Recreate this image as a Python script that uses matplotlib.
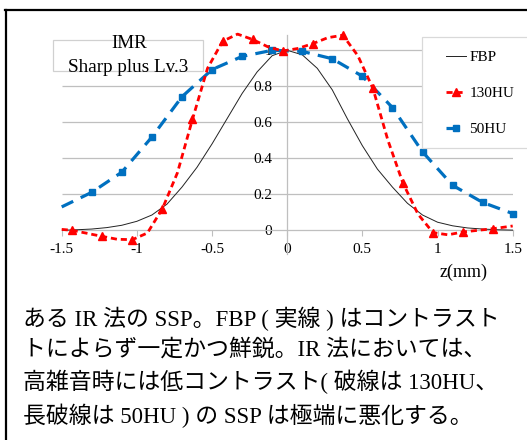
import matplotlib
matplotlib.use("Agg")
import matplotlib.pyplot as plt
from matplotlib.patches import Rectangle
from matplotlib.lines import Line2D

serif = "Liberation Serif"
jp = ["Liberation Serif", "Noto Sans CJK JP", "DejaVu Sans"]

# FBP (solid, thin)
fbp_x = [-1.5, -1.4, -1.3, -1.2, -1.1, -1.0, -0.9, -0.8, -0.7, -0.6, -0.5, -0.4, -0.3, -0.2, -0.1, 0.0,
         0.1, 0.2, 0.3, 0.4, 0.5, 0.6, 0.7, 0.8, 0.9, 1.0, 1.1, 1.2, 1.3, 1.4, 1.5]
fbp_y = [0.0, 0.003, 0.007, 0.015, 0.028, 0.05, 0.085, 0.145, 0.24, 0.35, 0.48, 0.62, 0.76, 0.88, 0.97, 1.0,
         0.975, 0.9, 0.78, 0.62, 0.47, 0.34, 0.24, 0.15, 0.085, 0.045, 0.025, 0.013, 0.007, 0.003, 0.001]

# 130HU (red dashed, triangles) - line points
hu130_x = [-1.5, -1.43, -1.33, -1.23, -1.13, -1.03, -0.93, -0.83, -0.73, -0.63, -0.53, -0.43, -0.33, -0.23,
           -0.13, -0.03, 0.07, 0.17, 0.27, 0.37, 0.47, 0.57, 0.67, 0.77, 0.87, 0.97, 1.07, 1.17, 1.27, 1.37, 1.5]
hu130_y = [0.005, 0.0, -0.017, -0.034, -0.05, -0.052, -0.015, 0.12, 0.32, 0.617, 0.9, 1.05, 1.09, 1.06,
           1.02, 0.996, 1.01, 1.037, 1.07, 1.084, 0.97, 0.789, 0.5, 0.262, 0.09, -0.013, -0.025, -0.009, 0.0, 0.009, 0.024]
hu130_marks = [1, 3, 5, 7, 9, 11, 13, 15, 17, 19, 21, 23, 25, 27, 29]

# 50HU (blue long dash, squares)
hu50_x = [-1.5, -1.3, -1.1, -0.9, -0.7, -0.5, -0.3, -0.1, 0.1, 0.3, 0.5, 0.7, 0.9, 1.1, 1.3, 1.5]
hu50_y = [0.13, 0.211, 0.323, 0.518, 0.742, 0.893, 0.966, 1.0, 0.994, 0.953, 0.856, 0.682, 0.436, 0.25, 0.155, 0.093]

yticks = [0, 0.2, 0.4, 0.6, 0.8, 1.0]
ylabels = ["0", "0.2", "0.4", "0.6", "0.8", "1"]
xticks = [-1.5, -1, -0.5, 0, 0.5, 1, 1.5]
xlabels = ["-1.5", "-1", "-0.5", "0", "0.5", "1", "1.5"]

note = ("ある IR 法の SSP。FBP ( 実線 ) はコントラスト\n"
        "トによらず一定かつ鮮鋭。IR 法においては、\n"
        "高雑音時には低コントラスト( 破線は 130HU、\n"
        "長破線は 50HU ) の SSP は極端に悪化する。")

W, H = 527, 440
fig = plt.figure(figsize=(W / 100, H / 100), dpi=100)

ylo, yhi = -0.13, 1.083
y0px, unit = 230.3, 180.0
top_px = y0px - yhi * unit
bot_px = y0px - ylo * unit
ax = fig.add_axes([61.7 / W, 1 - bot_px / H, 451 / W, (bot_px - top_px) / H])
ax.set_xlim(-1.5, 1.5)
ax.set_ylim(ylo, yhi)
ax.patch.set_alpha(0)

grid_c = "#BFBFBF"
ax.hlines(yticks[1:-1], -1.5, 1.5, color=grid_c, lw=0.9, zorder=1)
ax.hlines(1.0, 0, 1.5, color=grid_c, lw=0.9, zorder=1)

for s in ["top", "right"]:
    ax.spines[s].set_visible(False)
ax.spines["left"].set_position(("data", 0))
ax.spines["bottom"].set_position(("data", 0))
ax.spines["left"].set_color(grid_c)
ax.spines["bottom"].set_color(grid_c)
ax.spines["left"].set_linewidth(0.9)
ax.spines["bottom"].set_linewidth(0.9)

ax.set_yticks(yticks, ylabels)
ax.set_xticks(xticks, xlabels)
ax.tick_params(axis="y", length=0, pad=11, labelsize=11)
ax.tick_params(axis="x", length=4, color=grid_c, pad=5, labelsize=11)
for lab in ax.get_xticklabels() + ax.get_yticklabels():
    lab.set_fontfamily(serif)

ax.plot(fbp_x, fbp_y, color="#222222", lw=0.7, label="FBP", zorder=3)
ax.plot(hu130_x, hu130_y, color="#FF0000", lw=2.0, dashes=(2.2, 1.4), marker="^", ms=5.5,
        markevery=hu130_marks, label="130HU", zorder=4, clip_on=False)
ax.plot(hu50_x, hu50_y, color="#0070C0", lw=2.3, dashes=(4, 2.6), marker="s", ms=4.5,
        markevery=list(range(1, len(hu50_x))), label="50HU", zorder=3, clip_on=False)

ax.text(1.176, -0.235, "z(mm)", fontfamily=serif, fontsize=13, ha="center", va="center")

# legend box (white, runs past the right edge)
fig.patches.append(Rectangle((421.7 / W, 1 - 148 / H), 120 / W, (148 - 37.3) / H,
                             transform=fig.transFigure, facecolor="white", edgecolor="#D9D9D9",
                             lw=0.9, zorder=5))
leg = fig.legend(loc="upper left", bbox_to_anchor=(438 / W, 1 - 43 / H), frameon=False,
                 handlelength=1.35, handletextpad=0.2, labelspacing=1.45, borderpad=0,
                 prop={"family": serif, "size": 11})
leg.set_zorder(6)

# title box
fig.patches.append(Rectangle((53.3 / W, 1 - 70.7 / H), 150 / W, 30.7 / H,
                             transform=fig.transFigure, facecolor="white", edgecolor="#D0D0D0",
                             lw=0.9, zorder=5))
fig.text(129 / W, 1 - 44 / H, "IMR", fontfamily=serif, fontsize=13.8, ha="center", va="center", zorder=6)
fig.text(128.5 / W, 1 - 67 / H, "Sharp plus Lv.3", fontfamily=serif, fontsize=13.8,
         ha="center", va="center", zorder=6)

# outer frame (left and top edges)
fig.add_artist(Line2D([6 / W, 6 / W], [0, 1 - 10.3 / H], transform=fig.transFigure, color="black", lw=1.6))
fig.add_artist(Line2D([5.2 / W, 1], [1 - 10.3 / H, 1 - 10.3 / H], transform=fig.transFigure, color="black", lw=1.6))

fig.text(22.7 / W, 1 - 307 / H, note, family=jp, fontsize=16.5, ha="left", va="top", linespacing=1.47)

fig.savefig("out.png", dpi=100)
